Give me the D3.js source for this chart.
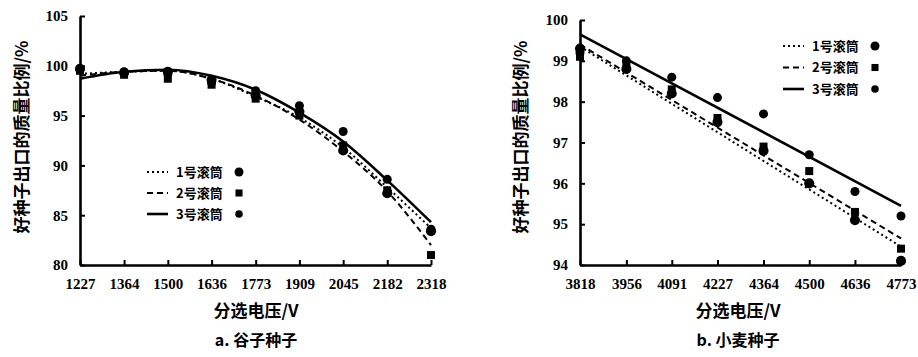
<!DOCTYPE html>
<html>
<head>
<meta charset="utf-8">
<script src="https://cdn.jsdelivr.net/npm/d3@7"></script>
<style>
  body { margin: 0; background: #fff; }
  svg { display: block; }
</style>
</head>
<body>
<svg width="918" height="357"></svg>
<script>
"use strict";

// a. millet seeds
var milletVoltage = [1227, 1364, 1500, 1636, 1773, 1909, 2045, 2182, 2318];
var milletYTicks = [80, 85, 90, 95, 100, 105];
// fitted curves
var milletFit1 = [99.2, 99.4, 99.5, 98.7, 96.9, 94.8, 91.8, 87.8, 83.7];
var milletFit2 = [99.0, 99.4, 99.5, 98.7, 97.0, 94.6, 91.4, 87.4, 82.0];
var milletFit3 = [98.7, 99.4, 99.6, 99.0, 97.6, 95.3, 92.4, 88.5, 84.3];
// measured points
var milletPts1 = [99.7, 99.3, 99.4, 98.6, 97.0, 95.4, 91.5, 87.2, 83.4];
var milletPts2 = [99.5, 99.1, 98.7, 98.1, 96.7, 95.0, 92.0, 87.5, 81.0];
var milletPts3 = [99.6, 99.4, 99.2, 98.3, 97.5, 96.0, 93.4, 88.6, 83.6];

// b. wheat seeds
var wheatVoltage = [3818, 3956, 4091, 4227, 4364, 4500, 4636, 4773];
var wheatYTicks = [94, 95, 96, 97, 98, 99, 100];
// straight fits, value at first and last voltage
var wheatFit1 = [99.35, 94.45];
var wheatFit2 = [99.4, 94.65];
var wheatFit3 = [99.65, 95.45];
var wheatPts1 = [99.3, 98.8, 98.2, 97.5, 96.8, 96.0, 95.1, 94.1];
var wheatPts2 = [99.1, 98.9, 98.3, 97.6, 96.9, 96.3, 95.3, 94.4];
var wheatPts3 = [99.2, 99.0, 98.6, 98.1, 97.7, 96.7, 95.8, 95.2];

var seriesNames = ["1号滚筒", "2号滚筒", "3号滚筒"];
var dashes = ["2,3", "6,4", null];
var widths = [2, 2, 2.6];

var NUM_FONT = "'Liberation Serif', 'DejaVu Serif', serif";
var CJK_FONT = "'Noto Sans CJK SC', sans-serif";

var svg = d3.select("svg");

function drawPanel(p) {
  var x = d3.scaleLinear().domain(d3.extent(p.voltage)).range(p.xr);
  var y = d3.scaleLinear().domain(d3.extent(p.yTicks)).range(p.yr);
  var g = svg.append("g");

  var xAxis = g.append("g").attr("transform", "translate(0," + p.yr[0] + ")")
    .call(d3.axisBottom(x).tickValues(p.voltage).tickFormat(d3.format("d"))
      .tickSizeInner(-5).tickSizeOuter(0).tickPadding(13));
  var yAxis = g.append("g").attr("transform", "translate(" + p.xr[0] + ",0)")
    .call(d3.axisLeft(y).tickValues(p.yTicks).tickFormat(d3.format("d"))
      .tickSizeInner(-5).tickSizeOuter(0).tickPadding(12));

  [xAxis, yAxis].forEach(function (a) {
    a.attr("font-family", null).attr("font-size", null);
    a.select(".domain").attr("stroke-width", 2.6);
    a.selectAll(".tick line").attr("stroke-width", 2);
    a.selectAll("text").style("font-family", NUM_FONT).style("font-weight", "bold")
      .style("font-size", "15px").attr("fill", "#000");
  });

  // curves
  p.fits.forEach(function (vals, i) {
    var xs = vals.length === 2 ? d3.extent(p.voltage) : p.voltage;
    var line = d3.line()
      .x(function (d, j) { return x(xs[j]); })
      .y(function (d) { return y(d); })
      .curve(vals.length === 2 ? d3.curveLinear : d3.curveMonotoneX);
    g.append("path").datum(vals).attr("d", line)
      .attr("fill", "none").attr("stroke", "#000")
      .attr("stroke-width", widths[i])
      .attr("stroke-dasharray", dashes[i]);
  });

  // points
  p.points.forEach(function (vals, i) {
    var sel = g.append("g").selectAll("path").data(vals).enter().append("path")
      .attr("transform", function (d, j) { return "translate(" + x(p.voltage[j]) + "," + y(d) + ")"; })
      .attr("fill", "#000");
    if (i === 1) sel.attr("d", d3.symbol(d3.symbolSquare, 64));
    else sel.attr("d", d3.symbol(d3.symbolCircle, i === 0 ? 80 : 64));
  });

  // legend
  var leg = g.append("g").attr("transform", "translate(" + p.legend[0] + "," + p.legend[1] + ")");
  seriesNames.forEach(function (name, i) {
    var row = leg.append("g").attr("transform", "translate(0," + i * p.legendStep + ")");
    row.append("line").attr("x1", 0).attr("x2", 21).attr("y1", 0).attr("y2", 0)
      .attr("stroke", "#000").attr("stroke-width", widths[i])
      .attr("stroke-dasharray", dashes[i]);
    row.append("text").attr("x", 29).attr("y", 0).attr("dy", "0.35em")
      .style("font-family", CJK_FONT).style("font-weight", "bold")
      .style("font-size", "13px").text(name);
    row.append("path").attr("transform", "translate(" + p.legendMark + ",0)")
      .attr("d", i === 1 ? d3.symbol(d3.symbolSquare, 50) : d3.symbol(d3.symbolCircle, i === 0 ? 64 : 45));
  });

  g.append("text").attr("x", p.titleX).attr("y", 311).attr("dy", "0.35em")
    .attr("text-anchor", "middle")
    .style("font-family", CJK_FONT).style("font-weight", "bold")
    .style("font-size", "17px").text("分选电压/V");
  g.append("text").attr("x", p.titleX).attr("y", 340).attr("dy", "0.35em")
    .attr("text-anchor", "middle")
    .style("font-family", CJK_FONT).style("font-weight", "bold")
    .style("font-size", "16px").text(p.caption);
  g.append("text")
    .attr("transform", "translate(" + p.ylabelX + "," + 137 + ") rotate(-90)")
    .attr("text-anchor", "middle").attr("dy", "0.35em")
    .style("font-family", CJK_FONT).style("font-weight", "bold")
    .style("font-size", "17px").text("好种子出口的质量比例/%");
}

drawPanel({
  voltage: milletVoltage, yTicks: milletYTicks,
  xr: [80, 431], yr: [265, 16],
  fits: [milletFit1, milletFit2, milletFit3],
  points: [milletPts1, milletPts2, milletPts3],
  legend: [147, 172], legendStep: 21, legendMark: 92,
  titleX: 256, ylabelX: 22, caption: "a. 谷子种子"
});

drawPanel({
  voltage: wheatVoltage, yTicks: wheatYTicks,
  xr: [580, 901], yr: [265, 20],
  fits: [wheatFit1, wheatFit2, wheatFit3],
  points: [wheatPts1, wheatPts2, wheatPts3],
  legend: [783, 46], legendStep: 21.5, legendMark: 92,
  titleX: 738, ylabelX: 521, caption: "b. 小麦种子"
});
</script>
</body>
</html>
